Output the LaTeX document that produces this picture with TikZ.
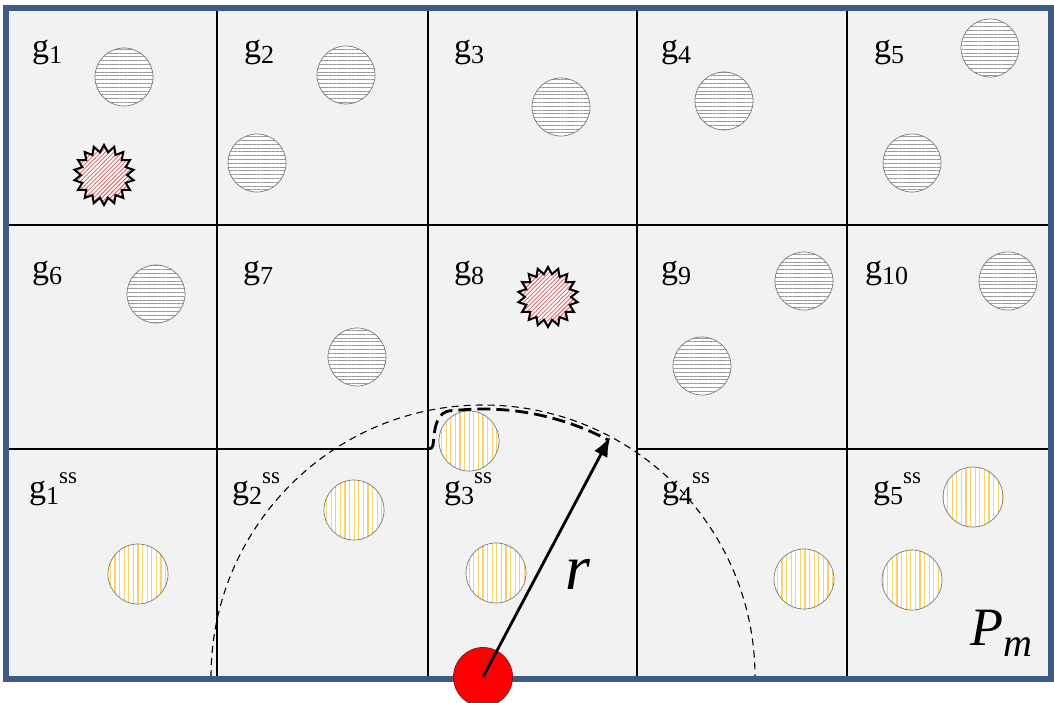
\documentclass[tikz,border=0pt]{standalone}
\usepackage{fontspec}
\setmainfont{Liberation Serif}
\usetikzlibrary{shapes.geometric,patterns.meta,arrows.meta}
\definecolor{bordercol}{HTML}{3D5B84}
\definecolor{cellgray}{HTML}{F2F2F2}
\definecolor{circedge}{HTML}{7A7A7A}
\definecolor{stripegray}{HTML}{9A9A9A}
\definecolor{stripeyel}{HTML}{F8D26A}
\definecolor{hatchred}{HTML}{E06A6A}
\definecolor{redfill}{HTML}{FF0000}
\definecolor{rededge}{HTML}{7A2020}
\newcommand\glab[1]{\fontsize{34}{34}\selectfont g\raisebox{-6pt}{\fontsize{26}{26}\selectfont #1}}
\newcommand\gsslab[1]{\fontsize{34}{34}\selectfont g\raisebox{-6pt}{\fontsize{26}{26}\selectfont #1}\raisebox{15pt}{\fontsize{23}{23}\selectfont ss}}
\tikzset{
  gcirc/.style={circle, minimum size=58pt, inner sep=0pt, draw=circedge, line width=0.7pt,
    preaction={fill=white}, pattern={Lines[angle=0,distance=3.8pt,line width=1pt]}, pattern color=stripegray},
  ycirc/.style={circle, minimum size=60pt, inner sep=0pt, draw=circedge, line width=0.7pt,
    preaction={fill=white}, pattern={Lines[angle=90,distance=4.6pt,line width=1.2pt]}, pattern color=stripeyel},
  burst/.style={star, star points=18, star point ratio=1.3, minimum size=60pt, inner sep=0pt,
    draw=black, line width=2pt, preaction={fill=white},
    pattern={Lines[angle=45,distance=3pt,line width=1pt]}, pattern color=hatchred},
  lab/.style={anchor=base west, inner sep=0pt},
  gridline/.style={line width=1.8pt, black},
  thindash/.style={line width=1.1pt, black, dash pattern=on 7pt off 5pt},
  thickdash/.style={line width=2.8pt, black, dash pattern=on 13pt off 6pt},
}
\begin{document}
\begin{tikzpicture}[x=1pt,y=-1pt]
\useasboundingbox (0,0) rectangle (1054,703);
\fill[cellgray] (6,8.5) rectangle (1051,678.5);
% grid
\foreach \gx in {217,428,637,847} \draw[gridline] (\gx,8.5) -- (\gx,678.5);
\draw[gridline] (6,225) -- (1051,225);
\draw[gridline] (6,449) -- (428,449);
\draw[gridline] (637,449) -- (1051,449);
% labels
\node[lab] (l1) at (32,58) {\glab{1}};
\node[lab] (l2) at (244,58) {\glab{2}};
\node[lab] (l3) at (454,58) {\glab{3}};
\node[lab] (l4) at (661,58) {\glab{4}};
\node[lab] (l5) at (874,58) {\glab{5}};
\node[lab] (l6) at (32,278) {\glab{6}};
\node[lab] (l7) at (243,278) {\glab{7}};
\node[lab] (l8) at (454,278) {\glab{8}};
\node[lab] (l9) at (661,278) {\glab{9}};
\node[lab] (l10) at (865,278) {\glab{10}};
\node[lab] (s1) at (29,498) {\gsslab{1}};
\node[lab] (s2) at (232,498) {\gsslab{2}};
\node[lab] (s3) at (444,498) {\gsslab{3}};
\node[lab] (s4) at (662,498) {\gsslab{4}};
\node[lab] (s5) at (873,498) {\gsslab{5}};
% gray circles
\node[gcirc] (c1) at (124,77) {};
\node[gcirc] (c2a) at (346,75) {};
\node[gcirc] (c2b) at (257,163) {};
\node[gcirc] (c3) at (561,107) {};
\node[gcirc] (c4) at (724,101) {};
\node[gcirc] (c5a) at (990,48) {};
\node[gcirc] (c5b) at (912,163) {};
\node[gcirc] (c6) at (156,294) {};
\node[gcirc] (c7) at (357,357) {};
\node[gcirc] (c9a) at (804,281) {};
\node[gcirc] (c9b) at (702,366) {};
\node[gcirc] (c10) at (1008,281) {};
% bursts
\node[burst] (b1) at (104,175) {};
\node[burst] (b8) at (548,297) {};
% yellow circles
\node[ycirc] (y3a) at (469,441) {};
\node[ycirc] (y2) at (354,510) {};
\node[ycirc] (y1) at (138,574) {};
\node[ycirc] (y3b) at (496,573) {};
\node[ycirc] (y4) at (804,579) {};
\node[ycirc] (y5a) at (973,497) {};
\node[ycirc] (y5b) at (912,580) {};
% range
\coordinate (O) at (483,677);
\coordinate (tip) at (610.3,436.6);
\draw[thindash] ([shift={(180:272)}]O) arc (180:360:272);
\draw[thickdash] (428,449) .. controls (434,449) and (433,444) .. (434,436)
   .. controls (436,418) and (441,410) .. ([shift={(264:268)}]O) arc (264:298:268);
% border
\draw[line width=6pt, bordercol] (6,8.5) rectangle (1051,678.5);
% node
\node[circle, minimum size=59pt, inner sep=0pt, fill=redfill, draw=rededge, line width=0.8pt] (red) at (O) {};
\draw[line width=2.8pt, -{Latex[length=20pt,width=15pt]}] (red.center) -- (tip);
\node[anchor=base, inner sep=0pt, font=\fontsize{64}{64}\selectfont\itshape] (rl) at (578,589) {r};
\node[lab, font=\fontsize{54}{54}\selectfont\itshape] (pm) at (970,645) {P\raisebox{-11pt}{\fontsize{40}{40}\selectfont\itshape m}};
\end{tikzpicture}
\end{document}
